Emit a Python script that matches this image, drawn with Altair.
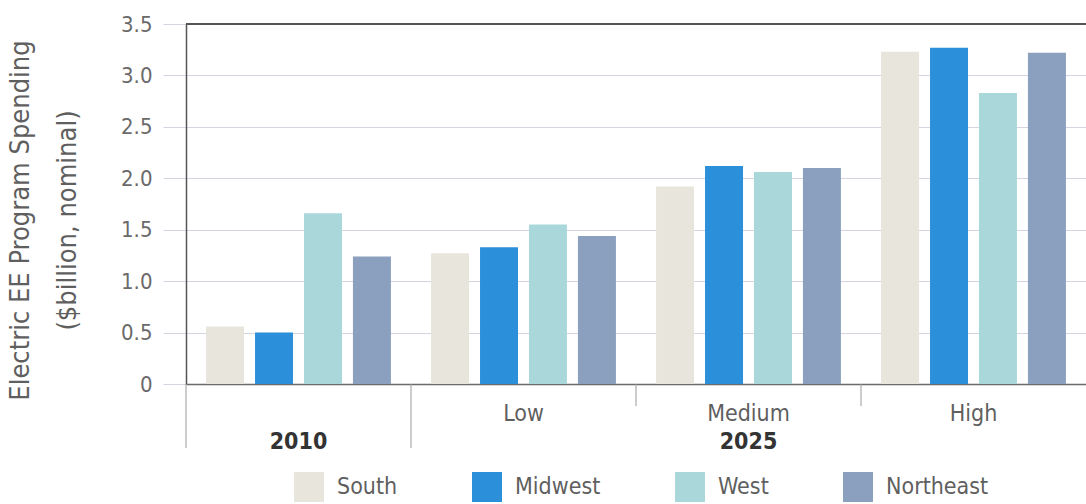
import altair as alt
import pandas as pd

# Electric EE program spending by region, 2010 actual and 2025 scenarios ($billion, nominal)
groups = ["2010", "Low", "Medium", "High"]
regions = ["South", "Midwest", "West", "Northeast"]
south = [0.56, 1.27, 1.92, 3.23]
midwest = [0.50, 1.33, 2.12, 3.27]
west = [1.66, 1.55, 2.06, 2.83]
northeast = [1.24, 1.44, 2.10, 3.22]
region_colors = ["#e8e5dd", "#2b8fd9", "#aad7da", "#8b9fbe"]
y_ticks = [0, 0.5, 1.0, 1.5, 2.0, 2.5, 3.0, 3.5]

# Period labels under the scenario row
period_labels = ["2010", "2025"]
period_anchor = ["2010", "Medium"]

# Group separators below the axis
sep_long = ["2010", "Low"]
sep_short = ["Medium", "High"]

FONT = "DejaVu Sans Condensed, sans-serif"
GRAY = "#5f5f5f"

rows = []
for series, vals in zip(regions, [south, midwest, west, northeast]):
    for g, v in zip(groups, vals):
        rows.append({"group": g, "region": series, "value": v})
bars_df = pd.DataFrame(rows)
periods_df = pd.DataFrame({"group": period_anchor, "label": period_labels})
long_df = pd.DataFrame({"group": sep_long})
short_df = pd.DataFrame({"group": sep_short})

x_scale = alt.Scale(domain=groups, paddingInner=0, paddingOuter=0)

bars = alt.Chart(bars_df).mark_bar().encode(
    x=alt.X(
        "group:N",
        scale=x_scale,
        sort=groups,
        axis=alt.Axis(
            title=None,
            labelExpr="datum.value == '2010' ? '' : datum.value",
            labelAngle=0,
            labelFont=FONT,
            labelFontSize=23,
            labelColor=GRAY,
            labelBaseline="alphabetic",
            labelPadding=36,
            ticks=False,
            tickSize=0,
            domainColor="#6a6a6a",
            domainWidth=1.5,
            grid=False,
        ),
    ),
    xOffset=alt.XOffset(
        "region:N",
        sort=regions,
        scale=alt.Scale(domain=regions, paddingInner=0.224, paddingOuter=0.41),
    ),
    y=alt.Y(
        "value:Q",
        scale=alt.Scale(domain=[0, 3.5], nice=False),
        axis=alt.Axis(
            title=["Electric EE Program Spending", "($billion, nominal)"],
            titleFont=FONT,
            titleFontSize=27,
            titleFontWeight="normal",
            titleColor=GRAY,
            titleAngle=270,
            titleAlign="center",
            titleBaseline="alphabetic",
            titleLineHeight=47,
            titleX=-158,
            titleY=196,
            values=y_ticks,
            labelExpr="datum.value == 0 ? '0' : format(datum.value, '.1f')",
            labelFont=FONT,
            labelFontSize=22,
            labelColor="#6a6a6a",
            labelPadding=11,
            tickSize=23,
            tickColor="#d4d4e2",
            gridColor="#d4d4e2",
            gridWidth=1,
            domainColor="#555555",
            domainWidth=1.5,
        ),
    ),
    color=alt.Color(
        "region:N",
        sort=regions,
        scale=alt.Scale(domain=regions, range=region_colors),
        legend=alt.Legend(
            title=None,
            orient="none",
            direction="horizontal",
            legendX=108,
            legendY=448,
            symbolType="square",
            symbolSize=900,
            symbolStrokeWidth=0,
            symbolOpacity=1,
            labelFont=FONT,
            labelFontSize=23,
            labelColor=GRAY,
            labelOffset=13,
            columnPadding=74,
            padding=0,
        ),
    ),
)

top_rule = alt.Chart(bars_df).mark_rule(color="#555555", strokeWidth=1.5).encode(
    y=alt.Y(datum=3.5)
)

long_seps = alt.Chart(long_df).mark_rule(color="#9a9a9a", strokeWidth=1).encode(
    x=alt.X("group:N", bandPosition=0, sort=groups),
    y=alt.value(360),
    y2=alt.value(424),
)

short_seps = alt.Chart(short_df).mark_rule(color="#9a9a9a", strokeWidth=1).encode(
    x=alt.X("group:N", bandPosition=0, sort=groups),
    y=alt.value(360),
    y2=alt.value(382),
)

period_text = alt.Chart(periods_df).mark_text(
    font=FONT, fontSize=23, fontWeight="bold", color="#333333", baseline="alphabetic"
).encode(
    x=alt.X("group:N", sort=groups),
    y=alt.value(425),
    text="label:N",
)

chart = (
    alt.layer(bars, top_rule, long_seps, short_seps, period_text)
    .properties(
        width=900,
        height=360,
        autosize=alt.AutoSizeParams(type="none"),
        padding={"left": 186, "top": 24, "right": 0, "bottom": 120},
        background="white",
    )
    .configure_view(stroke=None)
)

chart.save("out.html", embed_options={"renderer": "svg", "actions": False})
